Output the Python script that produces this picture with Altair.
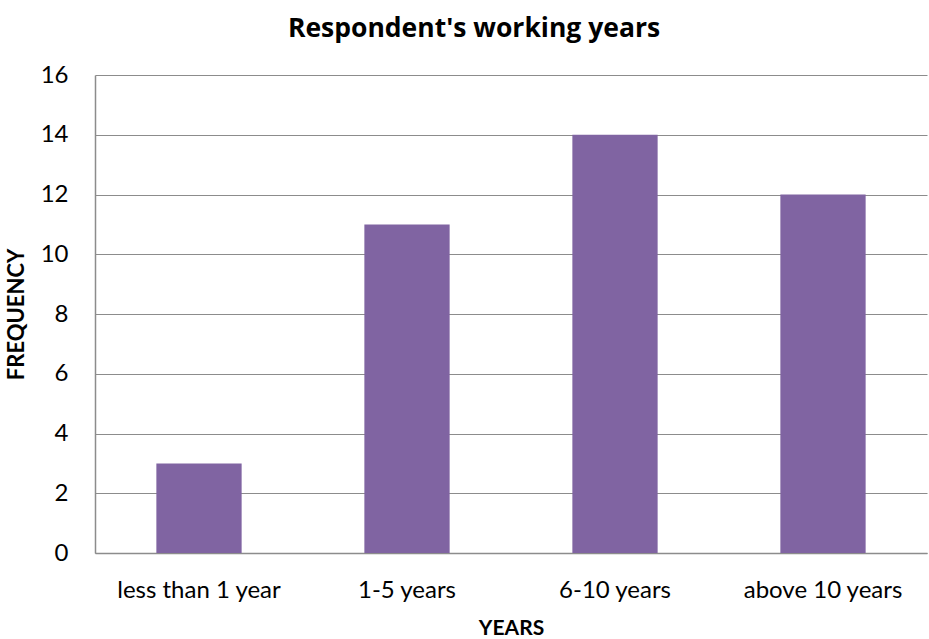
import altair as alt
import pandas as pd

categories = ["less than 1 year", "1-5 years", "6-10 years", "above 10 years"]
frequency = [3, 11, 14, 12]

df = pd.DataFrame({"years": categories, "freq": frequency})

FONT = "Lato"

chart = alt.Chart(df).mark_bar(color="#8064A2").encode(
    x=alt.X("years:N", sort=categories, title="YEARS",
            scale=alt.Scale(paddingInner=0.59, paddingOuter=0.295),
            axis=alt.Axis(labelAngle=0, labelFontSize=24, labelColor="#000000",
                          labelFont=FONT, labelPadding=25, ticks=False,
                          domainColor="#8c8c8c", domainWidth=1.5,
                          titleFont=FONT, titleFontSize=21, titleFontWeight="bold",
                          titleColor="#000000", titlePadding=15)),
    y=alt.Y("freq:Q", title="FREQUENCY",
            scale=alt.Scale(domain=[0, 16]),
            axis=alt.Axis(values=[0, 2, 4, 6, 8, 10, 12, 14, 16], labelFontSize=24,
                          labelColor="#000000", labelFont=FONT, labelPadding=27,
                          ticks=False, domainColor="#8c8c8c", domainWidth=1.5,
                          gridColor="#8c8c8c", gridWidth=1.2,
                          titleFont=FONT, titleFontSize=22, titleFontWeight="bold",
                          titleColor="#000000", titlePadding=12)),
).properties(
    width=832, height=478,
    title=alt.TitleParams("Respondent's working years", font="Open Sans", fontSize=26.5,
                          fontWeight="bold", color="#000000", anchor="middle",
                          dx=-37, offset=21),
    autosize=alt.AutoSizeParams(type="none"),
    padding={"left": 95, "top": 75, "right": 2, "bottom": 86},
).configure_view(stroke=None)

chart.save("out.html", embed_options={"renderer": "svg", "actions": False})
